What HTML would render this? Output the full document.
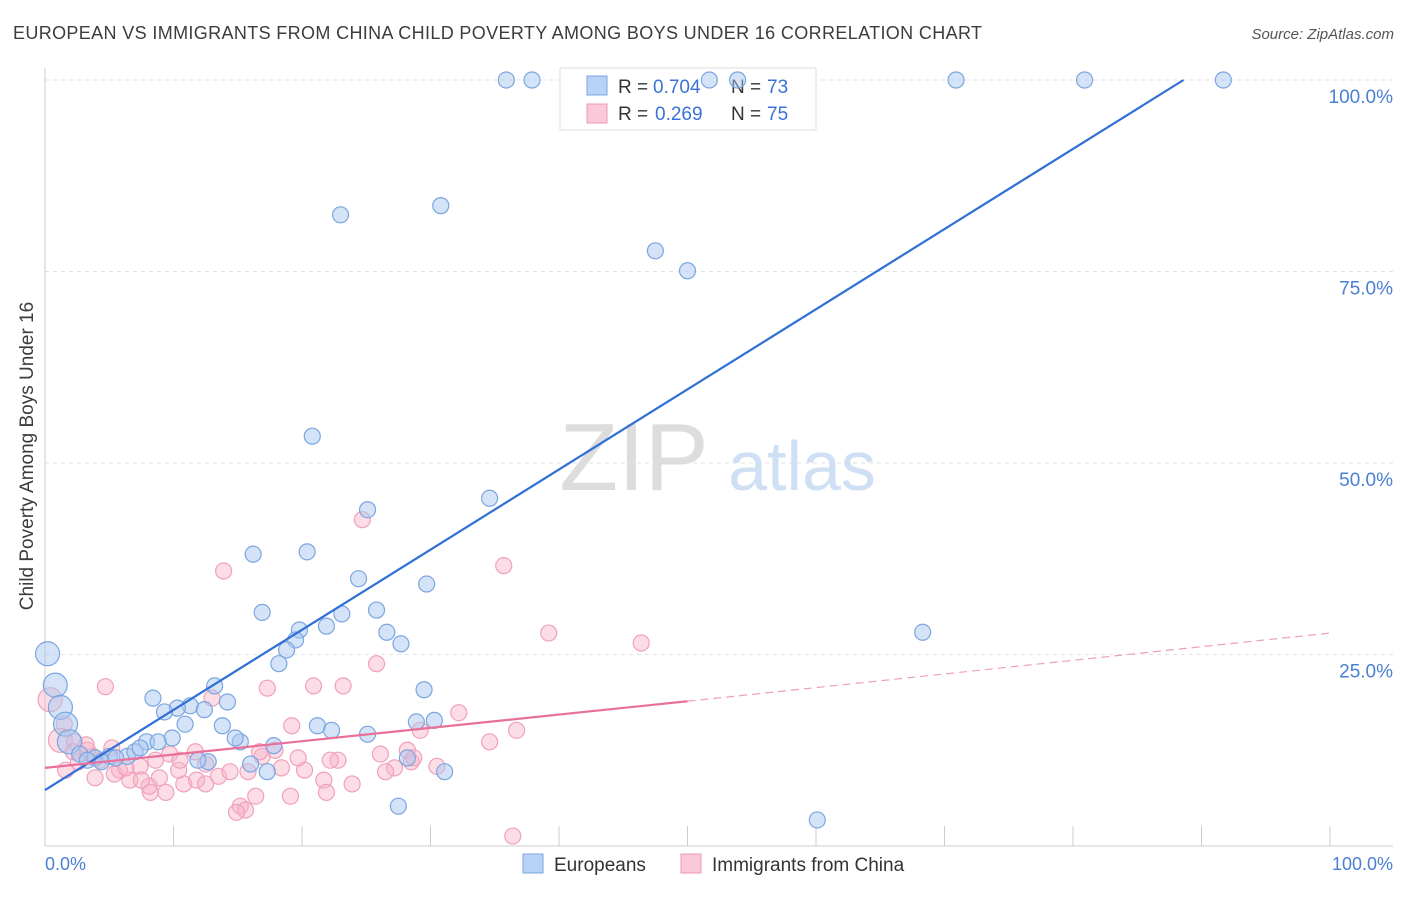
<!DOCTYPE html>
<html><head><meta charset="utf-8"><style>
body{margin:0;background:#fff;font-family:"Liberation Sans",sans-serif;}
svg text{font-family:"Liberation Sans",sans-serif;}
</style></head><body>
<svg id="chart" width="1406" height="892" viewBox="0 0 1406 892" xmlns="http://www.w3.org/2000/svg">
<text x="13" y="39" font-size="18" fill="#3c3c3c" textLength="969" lengthAdjust="spacing">EUROPEAN VS IMMIGRANTS FROM CHINA CHILD POVERTY AMONG BOYS UNDER 16 CORRELATION CHART</text>
<text x="1394" y="39" font-size="15" fill="#555" text-anchor="end" font-style="italic">Source: ZipAtlas.com</text>
<g id="grid"></g>
<g>
<text x="634" y="490" font-size="96" fill="#ddd" text-anchor="middle" font-family="Liberation Serif">ZIP</text>
<text x="802" y="490" font-size="70" fill="#cfe0f5" text-anchor="middle">atlas</text>
</g>
<g>
<rect x="560" y="68" width="256" height="62" fill="#fff" stroke="#ddd"/>
<rect x="587" y="76" width="20" height="19" fill="#b8d3f5" stroke="#7aa6e0"/>
<rect x="587" y="104" width="20" height="19" fill="#fbc8d8" stroke="#ee9ab5"/>
<text x="618" y="93" font-size="19" fill="#333">R =</text>
<text x="653" y="93" font-size="19" fill="#3a72d8">0.704</text>
<text x="731" y="93" font-size="19" fill="#333">N =</text>
<text x="767" y="93" font-size="19" fill="#3a72d8">73</text>
<text x="618" y="120" font-size="19" fill="#333">R =</text>
<text x="655" y="120" font-size="19" fill="#3a72d8">0.269</text>
<text x="731" y="120" font-size="19" fill="#333">N =</text>
<text x="767" y="120" font-size="19" fill="#3a72d8">75</text>
</g>
<g id="pts"></g>
<g id="lines"></g>
<text transform="translate(33,456) rotate(-90)" font-size="19" fill="#3c3c3c" text-anchor="middle">Child Poverty Among Boys Under 16</text>
<text x="45" y="870" font-size="18" fill="#4a7fd4">0.0%</text>
<text x="1393" y="870" font-size="18" fill="#4a7fd4" text-anchor="end">100.0%</text>
<g>
<rect x="523" y="854" width="20" height="19" fill="#b8d3f5" stroke="#7aa6e0"/>
<text x="554" y="871" font-size="19" fill="#333">Europeans</text>
<rect x="681" y="854" width="20" height="19" fill="#fbc8d8" stroke="#ee9ab5"/>
<text x="712" y="871" font-size="19" fill="#333">Immigrants from China</text>
</g>
</svg>
<script>
const yTicks=[25,50,75,100];
const yTickLabels=["25.0%","50.0%","75.0%","100.0%"];
const xTicks=[0,10,20,30,40,50,60,70,80,90,100];
const blueX=[35.9,37.9,51.7,53.9,70.9,80.9,91.7,23.0,30.8,47.5,50.0,20.8,34.6,25.1,16.2,20.4,24.4,29.7,16.9,25.8,23.1,19.8,21.9,19.5,26.6,27.7,18.8,18.2,68.3,0.2,0.8,1.2,1.6,13.2,8.4,14.2,11.3,10.3,9.3,12.4,29.5,10.9,13.8,21.2,22.3,30.3,28.9,25.1,17.8,15.2,7.9,9.9,8.8,1.9,2.7,3.9,5.0,6.4,7.0,4.4,12.7,11.9,16.0,17.3,28.2,31.1,27.5,60.1,5.5,3.3,7.4,14.8];
const blueY=[100,100,100,100,100,100,100,82.4,83.6,77.7,75.1,53.5,45.4,43.9,38.1,38.4,34.9,34.2,30.5,30.8,30.3,28.2,28.7,26.9,27.9,26.4,25.6,23.8,27.9,25.1,21.0,18.1,15.9,20.9,19.3,18.8,18.3,18.0,17.5,17.8,20.4,15.9,15.7,15.7,15.1,16.4,16.2,14.6,13.1,13.6,13.6,14.1,13.6,13.6,12.0,11.5,11.7,11.7,12.3,11.0,11.0,11.2,10.7,9.7,11.5,9.7,5.2,3.4,11.5,11.2,12.8,14.1];
const blueBig=[0,0,0,0,0,0,0,0,0,0,0,0,0,0,0,0,0,0,0,0,0,0,0,0,0,0,0,0,0,1,1,1,1,0,0,0,0,0,0,0,0,0,0,0,0,0,0,0,0,0,0,0,0,1,0,0,0,0,0,0,0,0,0,0,0,0,0,0,0,0,0,0];
const pinkX=[0.4,1.5,1.2,2.3,2.2,2.6,4.7,13.9,24.7,35.7,39.2,46.4,25.8,17.3,20.9,23.2,13.0,19.2,32.2,36.7,34.6,17.9,26.1,28.2,28.5,27.2,26.5,30.5,20.2,18.4,21.7,23.9,16.4,15.2,15.6,14.9,19.1,21.9,10.8,8.9,9.4,8.2,6.6,5.8,3.9,5.4,4.3,7.4,8.6,9.7,10.4,11.7,12.5,13.5,14.4,15.8,16.9,19.7,22.8,11.8,12.5,8.1,6.3,5.2,3.7,3.3,22.2,28.7,36.4,1.6,10.5,16.7,29.2,7.5,3.2];
const pinkY=[19.1,15.9,13.8,13.6,12.3,11.0,20.8,35.9,42.6,36.6,27.8,26.5,23.8,20.6,20.9,20.9,19.3,15.7,17.4,15.1,13.6,12.5,12.0,12.5,11.0,10.2,9.7,10.4,9.9,10.2,8.6,8.1,6.5,5.2,4.7,4.4,6.5,7.0,8.1,8.9,7.0,7.0,8.6,9.9,8.9,9.4,11.2,10.4,11.2,12.0,9.9,12.3,10.7,9.1,9.7,9.7,11.7,11.5,11.2,8.6,8.1,7.8,10.2,12.8,11.7,12.5,11.2,11.5,1.3,9.9,11.2,12.3,15.1,8.6,13.2];
const pinkBig=[1,0,1,0,0,0,0,0,0,0,0,0,0,0,0,0,0,0,0,0,0,0,0,0,0,0,0,0,0,0,0,0,0,0,0,0,0,0,0,0,0,0,0,0,0,0,0,0,0,0,0,0,0,0,0,0,0,0,0,0,0,0,0,0,0,0,0,0,0,0,0,0,0,0,0];
const blueLine=[0,7.3,88.6,100];
const pinkLine=[0,10.2,50,18.9,100,27.8];

const NS="http://www.w3.org/2000/svg";
const xs=v=>45+v*12.85, ys=v=>846-v*7.66;
function mk(t,a,p){const e=document.createElementNS(NS,t);for(const k in a)e.setAttribute(k,a[k]);p.appendChild(e);return e;}
const grid=document.getElementById('grid');
yTicks.forEach((t,i)=>{
 const l=mk('line',{x1:45,x2:1393,y1:ys(t),y2:ys(t),stroke:'#e2e2e2','stroke-dasharray':'4,4'},grid);
 
 
 const tx=mk('text',{x:1393,y:ys(t)+23,'font-size':19,fill:'#4a7fd4','text-anchor':'end'},grid);
 tx.textContent=yTickLabels[i];
 
 
});
const ax=mk('line',{x1:45,x2:45,y1:68,y2:846,stroke:'#ccc'},grid);


const bx=mk('line',{x1:45,x2:1393,y1:846,y2:846,stroke:'#ccc'},grid);


xTicks.forEach(t=>{
 const l=mk('line',{x1:xs(t),x2:xs(t),y1:826,y2:846,stroke:'#ccc'},grid);
 
 
});
const pts=document.getElementById('pts');
pinkX.forEach((v,i)=>{
 const c=mk('circle',{cx:xs(v),cy:ys(pinkY[i]),r:pinkBig[i]?12:8,fill:'rgba(248,180,200,0.45)',stroke:'#f0a0bb','stroke-width':1.2},pts);
 
 
});
blueX.forEach((v,i)=>{
 const c=mk('circle',{cx:xs(v),cy:ys(blueY[i]),r:blueBig[i]?12:8,fill:'rgba(170,200,240,0.5)',stroke:'#7aa6e0','stroke-width':1.2},pts);
 
 
});
const lines=document.getElementById('lines');
const b=mk('line',{x1:xs(blueLine[0]),y1:ys(blueLine[1]),x2:xs(blueLine[2]),y2:ys(blueLine[3]),stroke:'#2f6fd6','stroke-width':2.2},lines);


const p1=mk('line',{x1:xs(pinkLine[0]),y1:ys(pinkLine[1]),x2:xs(pinkLine[2]),y2:ys(pinkLine[3]),stroke:'#e8709a','stroke-width':2.2},lines);


const p2=mk('line',{x1:xs(pinkLine[2]),y1:ys(pinkLine[3]),x2:xs(pinkLine[4]),y2:ys(pinkLine[5]),stroke:'#eea0b8','stroke-width':1.2,'stroke-dasharray':'8,5'},lines);


</script>
</body></html>
